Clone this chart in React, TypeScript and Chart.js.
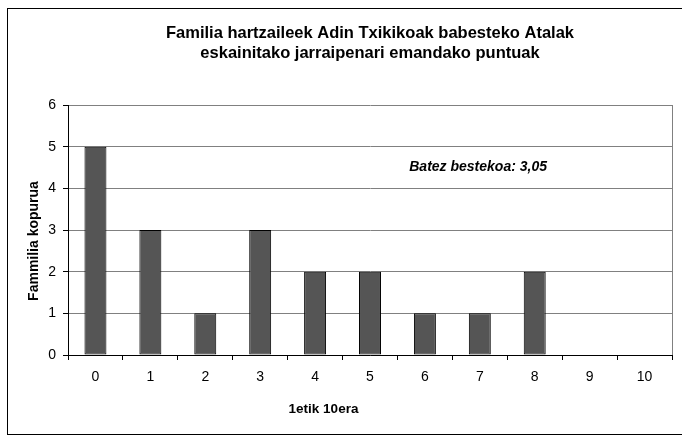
import React, { useEffect, useRef } from "react";
import { Chart, registerables } from "chart.js";

Chart.register(...registerables);

const categories = ["0", "1", "2", "3", "4", "5", "6", "7", "8", "9", "10"];
const familyCounts = [5, 3, 1, 3, 2, 2, 1, 1, 2, 0, 0];
const titleLines = [
  "Familia hartzaileek Adin Txikikoak babesteko Atalak",
  "eskainitako jarraipenari emandako puntuak",
];
const yAxisTitle = "Fammilia kopurua";
const xAxisTitle = "1etik 10era";
const averageNote = "Batez bestekoa: 3,05";

const FONT = "'Liberation Sans', Arial, Helvetica, sans-serif";

const decorPlugin = {
  id: "decor",
  afterDraw(chart: any) {
    const { ctx, chartArea } = chart;
    const ys = chart.scales.y;
    ctx.save();
    // outer frame
    ctx.strokeStyle = "#000";
    ctx.lineWidth = 1;
    ctx.strokeRect(7.5, 8.5, 700, 426);
    // plot right border
    ctx.strokeStyle = "#808080";
    ctx.beginPath();
    ctx.moveTo(Math.round(chartArea.right) + 0.5, chartArea.top);
    ctx.lineTo(Math.round(chartArea.right) + 0.5, chartArea.bottom);
    ctx.stroke();
    // title
    ctx.fillStyle = "#000";
    ctx.textAlign = "center";
    ctx.textBaseline = "middle";
    ctx.font = `bold 16.5px ${FONT}`;
    const cx = (chartArea.left + chartArea.right) / 2;
    titleLines.forEach((t, i) => ctx.fillText(t, cx, 33 + i * 20));
    // annotation
    ctx.font = `italic bold 14px ${FONT}`;
    ctx.textAlign = "right";
    ctx.fillText(averageNote, chartArea.left + chartArea.width * 0.793, ys.getPixelForValue(4.5));
    // x title
    ctx.font = `bold 13.5px ${FONT}`;
    ctx.textAlign = "center";
    ctx.fillText(xAxisTitle, chartArea.left + chartArea.width * 0.423, 409);
    // y title
    ctx.font = `bold 14px ${FONT}`;
    ctx.translate(34, 241);
    ctx.rotate(-Math.PI / 2);
    ctx.fillText(yAxisTitle, 0, 0);
    ctx.restore();
  },
};

export default function App() {
  const ref = useRef<HTMLCanvasElement>(null);
  useEffect(() => {
    document.body.style.margin = "0";
    const chart = new Chart(ref.current as HTMLCanvasElement, {
      type: "bar",
      data: {
        labels: categories,
        datasets: [
          {
            data: familyCounts,
            backgroundColor: "#555555",
            borderColor: "#000000",
            borderWidth: 1,
            borderSkipped: false,
            barPercentage: 0.4,
            categoryPercentage: 1,
          },
        ],
      },
      options: {
        responsive: false,
        animation: false,
        devicePixelRatio: 1,
        layout: { padding: { top: 105, right: 10, bottom: 0, left: 0 } },
        plugins: {
          legend: { display: false },
          title: { display: false },
          tooltip: { enabled: false },
        },
        scales: {
          x: {
            offset: true,
            grid: { drawOnChartArea: false, tickLength: 5, tickColor: "#000", offset: true },
            border: { color: "#000", width: 1 },
            ticks: { color: "#000", font: { family: FONT, size: 14 }, padding: 9, maxRotation: 0 },
            afterFit: (s: any) => { s.height = 81; },
          },
          y: {
            min: 0,
            max: 6,
            grid: { color: "#808080", tickLength: 5, tickColor: "#000" },
            border: { color: "#000", width: 1 },
            ticks: { stepSize: 1, color: "#000", font: { family: FONT, size: 14 }, padding: 7 },
            afterFit: (s: any) => { s.width = 68; },
          },
        },
      },
      plugins: [decorPlugin],
    });
    return () => chart.destroy();
  }, []);
  return <canvas ref={ref} width={682} height={436} style={{ display: "block" }} />;
}
